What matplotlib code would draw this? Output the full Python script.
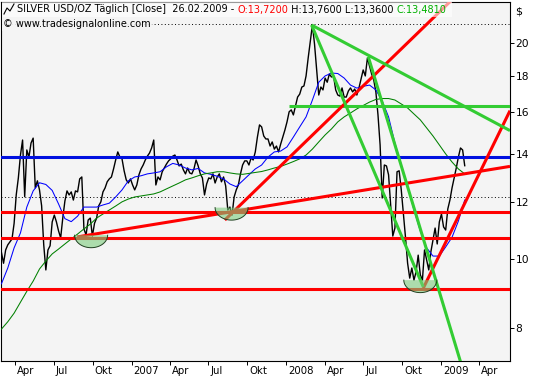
import numpy as np
import pandas as pd
import matplotlib
matplotlib.use("Agg")
import matplotlib.pyplot as plt
import matplotlib.dates as mdates
import matplotlib.transforms as mtransforms
from matplotlib.patches import Polygon, Rectangle
from matplotlib.lines import Line2D
from matplotlib.ticker import FixedLocator, FixedFormatter, NullLocator

# silver close (USD/oz), sampled every 5 days, last value 26.02.2009
close = [10.2, 9.85, 10.28, 10.45, 10.55, 10.65, 11.2, 12.27, 12.96, 13.95,
         14.64, 12.2, 14.18, 13.86, 14.5, 14.73, 12.55, 12.84, 12.47, 11.85,
         10.45, 9.64, 10.28, 10.42, 11.25, 11.5, 11.25, 10.93, 10.69, 11.39,
         12.03, 12.43, 12.27, 12.39, 12.07, 12.43, 12.39, 12.92, 13.0, 11.0,
         10.79, 11.32, 11.39, 10.75, 11.2, 11.39, 11.85, 12.0, 12.39, 12.55,
         12.8, 12.92, 13.0, 13.34, 13.73, 14.09, 13.86, 13.78, 13.26, 12.88,
         12.75, 12.92, 12.67, 12.47, 12.67, 13.09, 13.34, 13.51, 13.73, 13.9,
         14.04, 14.27, 14.64, 12.67, 13.0, 12.88, 13.22, 13.38, 13.55, 13.69,
         13.78, 13.9, 13.95, 13.73, 13.47, 13.55, 13.3, 13.13, 13.38, 13.17,
         13.13, 13.34, 13.73, 13.47, 13.13, 12.96, 12.27, 12.71, 12.96, 12.92,
         13.13, 12.75, 13.0, 13.13, 12.8, 13.0, 12.63, 11.69, 11.8, 11.5,
         12.19, 12.47, 12.67, 13.13, 13.51, 13.69, 13.69, 13.51, 13.82, 13.73,
         14.09, 14.78, 15.37, 15.27, 14.83, 14.69, 14.69, 14.36, 14.55, 14.22,
         14.36, 14.09, 14.45, 14.78, 15.12, 15.52, 16.03, 16.13, 15.87, 16.34,
         16.81, 16.97, 17.36, 17.42, 17.99, 19.06, 20.1, 21.2, 19.93, 18.34,
         16.92, 17.36, 17.2, 17.87, 17.63, 18.1, 17.93, 17.99, 17.2, 16.92,
         16.86, 17.31, 16.81, 16.81, 17.14, 17.31, 17.09, 17.25, 16.92, 17.31,
         17.81, 18.34, 17.99, 19.06, 18.58, 18.1, 17.75, 17.09, 15.87, 14.41,
         12.15, 13.51, 13.47, 13.09, 11.88, 10.75, 11.03, 13.22, 13.26, 12.47,
         11.57, 10.71, 9.85, 9.39, 9.7, 9.33, 9.58, 10.11, 9.49, 9.33,
         10.28, 9.95, 9.64, 10.22, 10.61, 11.03, 10.48, 11.25, 11.54, 11.07,
         10.96, 11.73, 12.07, 12.55, 12.96, 13.38, 13.86, 14.27, 14.18, 13.48]

# moving averages, every 15 days
ma_blue = [9.22, 9.7, 10.35, 10.86, 11.8, 12.43, 12.76, 12.69, 12.45, 11.92,
           11.37, 11.26, 11.46, 11.8, 11.8, 11.8, 11.88, 11.95, 12.19, 12.47,
           12.84, 13.0, 13.05, 13.13, 13.17, 13.22, 13.43, 13.58, 13.51, 13.38,
           13.3, 13.36, 13.17, 13.11, 13.03, 12.92, 12.71, 12.6, 12.84, 13.09,
           13.34, 13.51, 13.86, 14.09, 14.13, 14.32, 14.78, 15.27, 15.77, 16.65,
           17.63, 17.99, 18.16, 18.13, 17.87, 17.47, 17.3, 17.4, 17.47, 17.2,
           16.6, 15.77, 14.5, 13.51, 12.63, 11.69, 10.93, 10.35, 10.08, 10.08,
           10.38, 10.71, 11.28, 12.07]
ma_green = [7.97, 8.16, 8.39, 8.69, 9.0, 9.3, 9.67, 9.92, 10.15, 10.31,
            10.48, 10.65, 10.82, 11.0, 11.17, 11.39, 11.54, 11.69, 11.84, 12.0,
            12.11, 12.19, 12.23, 12.27, 12.31, 12.39, 12.51, 12.63, 12.75, 12.88,
            12.96, 13.05, 13.13, 13.17, 13.22, 13.22, 13.17, 13.13, 13.11, 13.15,
            13.19, 13.23, 13.3, 13.38, 13.45, 13.55, 13.66, 13.78, 13.95, 14.22,
            14.55, 14.88, 15.17, 15.52, 15.77, 15.97, 16.18, 16.36, 16.54, 16.68,
            16.73, 16.73, 16.65, 16.44, 16.23, 15.92, 15.62, 15.22, 14.83, 14.41,
            14.0, 13.64, 13.34, 13.13]

# drawing tools
red_levels = [11.63, 10.67, 9.08]
blue_level = 13.88
green_level = 16.33
green_level_start = "2008-01-08"
dotted_levels = [21.26, 12.18]
red_trends = [(("2006-08-25", 10.72), ("2009-06-13", 13.45)),
              (("2007-08-09", 11.32), ("2009-02-15", 23.57)),
              (("2008-11-20", 9.09), ("2009-06-13", 16.09))]
green_trends = [(("2008-03-01", 21.19), ("2009-06-13", 15.09)),
                (("2008-03-01", 21.19), ("2008-11-20", 9.13)),
                (("2008-07-13", 19.14), ("2009-03-10", 6.5))]
bowls = [("2006-09-27", 10.78), ("2007-08-25", 11.78), ("2008-11-13", 9.33)]

y_ticks = [8, 10, 12, 14, 16, 18, 20]
x_ticks = ["2006-04-01", "2006-07-01", "2006-10-01", "2007-01-01", "2007-04-01",
           "2007-07-01", "2007-10-01", "2008-01-01", "2008-04-01", "2008-07-01",
           "2008-10-01", "2009-01-01", "2009-04-01"]
x_labels = ["Apr", "Jul", "Okt", "2007", "Apr", "Jul", "Okt", "2008", "Apr",
            "Jul", "Okt", "2009", "Apr"]

dates = pd.date_range(end="2009-02-26", periods=len(close), freq="5D")
ma_dates = dates[::3]

W, H = 533, 380
plt.rcParams["font.family"] = ["DejaVu Sans"]
fs = 7.05

fig = plt.figure(figsize=(W / 100, H / 100), dpi=100, facecolor="white")
ax = fig.add_axes([1 / W, (H - 360.7) / H, 509 / W, 358.7 / H])
ax.set_facecolor("#f4f4f4")
ax.set_yscale("log")

ax.plot(dates, close, color="black", lw=1.0, zorder=3)
ax.plot(ma_dates, ma_blue, color="#0000ff", lw=0.75, zorder=4)
ax.plot(ma_dates, ma_green, color="#008000", lw=0.75, zorder=4)

ax.set_xlim(pd.Timestamp("2006-02-26"), pd.Timestamp("2009-06-13"))
ax.set_ylim(7.20, 22.82)

for lvl in dotted_levels:
    ax.axhline(lvl, color="black", lw=0.7, ls=(0, (1, 2.5)), zorder=2)
for lvl in red_levels:
    ax.axhline(lvl, color="#ff0000", lw=2.2, zorder=5)
ax.axhline(blue_level, color="#0010e0", lw=2.2, zorder=5)
ax.hlines(green_level, pd.Timestamp(green_level_start), pd.Timestamp("2009-06-13"),
          color="#33cc33", lw=2.2, zorder=5)
for (d1, p1), (d2, p2) in red_trends:
    ax.plot([pd.Timestamp(d1), pd.Timestamp(d2)], [p1, p2], color="#ff0000",
            lw=2.2, zorder=5, solid_capstyle="butt")
for (d1, p1), (d2, p2) in green_trends:
    ax.plot([pd.Timestamp(d1), pd.Timestamp(d2)], [p1, p2], color="#33cc33",
            lw=2.2, zorder=5, solid_capstyle="butt")

# half-discs under the lows (fixed size on screen)
t = np.linspace(np.pi, 2 * np.pi, 40)
arc = np.column_stack([0.165 * np.cos(t), 0.125 * np.sin(t)])
for d, p in bowls:
    trans = fig.dpi_scale_trans + mtransforms.ScaledTranslation(
        mdates.date2num(pd.Timestamp(d)), p, ax.transData)
    ax.add_patch(Polygon(arc, closed=True, transform=trans, facecolor="#7ccd7c",
                         alpha=0.6, edgecolor="none", zorder=6))
    ax.add_line(Line2D(arc[:, 0], arc[:, 1], transform=trans, color="#204020",
                       lw=0.7, zorder=6))

# axes
for s in ax.spines.values():
    s.set_color("black")
    s.set_linewidth(0.8)
ax.yaxis.tick_right()
ax.yaxis.set_major_locator(FixedLocator(y_ticks))
ax.yaxis.set_major_formatter(FixedFormatter([str(v) for v in y_ticks]))
ax.yaxis.set_minor_locator(NullLocator())
ax.tick_params(axis="y", direction="out", length=3, width=0.7, pad=1,
               labelsize=fs + 0.6)
ax.xaxis.set_major_locator(FixedLocator(mdates.date2num(pd.to_datetime(x_ticks))))
ax.xaxis.set_major_formatter(FixedFormatter(x_labels))
ax.xaxis.set_minor_locator(NullLocator())
ax.tick_params(axis="x", direction="out", length=3, width=0.7, pad=1,
               labelsize=fs + 0.2)
shift = mtransforms.ScaledTranslation(2 / 100, 0, fig.dpi_scale_trans)
for lab in ax.get_xticklabels():
    lab.set_horizontalalignment("left")
    lab.set_transform(lab.get_transform() + shift)

fig.text(515 / W, 1 - 11 / H, "$", fontsize=fs + 1, va="center", ha="left")

# header
fig.add_artist(Rectangle((2 / W, 1 - 17 / H), 450 / W, 15 / H, transform=fig.transFigure,
                         facecolor="white", alpha=0.6, edgecolor="none", zorder=2.5))
fig.add_artist(Rectangle((2 / W, 1 - 31 / H), 150 / W, 14 / H, transform=fig.transFigure,
                         facecolor="#f4f4f4", alpha=0.9, edgecolor="none", zorder=2.5))
fig.add_artist(Line2D([4 / W, 7 / W, 10 / W, 14 / W],
                      [1 - 14 / H, 1 - 8 / H, 1 - 11 / H, 1 - 4 / H],
                      transform=fig.transFigure, color="black", lw=0.8, zorder=3))
renderer = fig.canvas.get_renderer()
x_px = 17
for s, c in [("SILVER USD/OZ Täglich [Close]  26.02.2009 - ", "black"),
             ("O:13,7200", "#ff0000"), (" H:13,7600 L:13,3600 ", "black"),
             ("C:13,4810", "#00b000")]:
    txt = fig.text(x_px / W, 1 - 9.5 / H, s, color=c, fontsize=fs, va="center",
                   ha="left", zorder=3)
    x_px += txt.get_window_extent(renderer).width
fig.text(3 / W, 1 - 24 / H, "© www.tradesignalonline.com", fontsize=fs,
         va="center", ha="left", zorder=3)

fig.savefig("out.png", dpi=100, facecolor="white")
